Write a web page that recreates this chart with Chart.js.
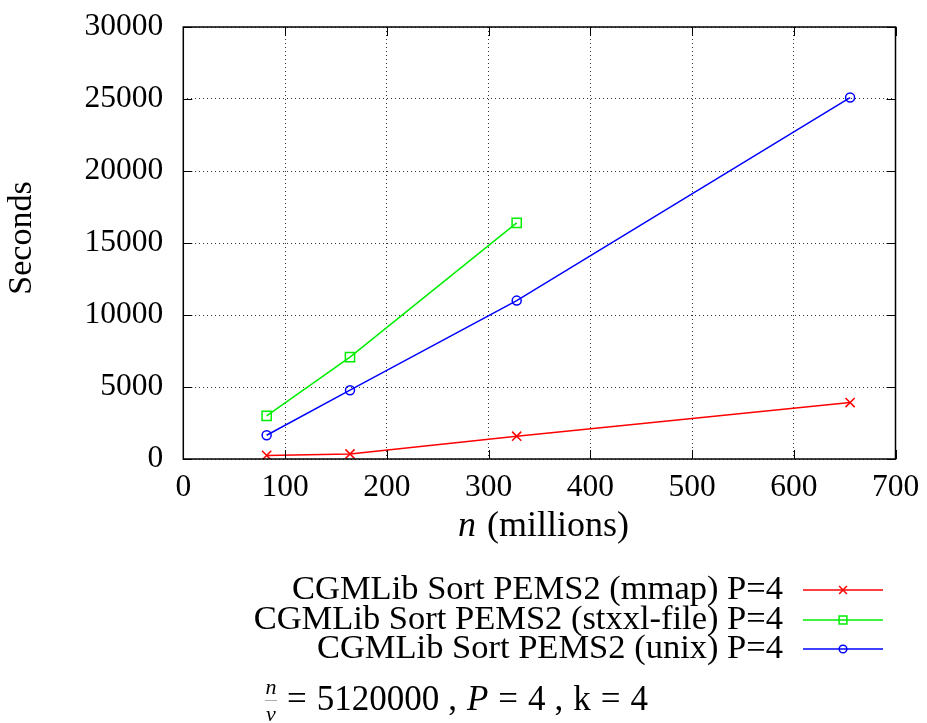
<!DOCTYPE html>
<html>
<head>
<meta charset="utf-8">
<script src="https://cdn.jsdelivr.net/npm/chart.js@4.4.1/dist/chart.umd.min.js"></script>
<style>
  html, body { margin: 0; padding: 0; background: #fff; }
  #wrap { width: 927px; height: 723px; }
</style>
</head>
<body>
<div id="wrap"><canvas id="myChart" width="927" height="723"></canvas></div>
<script>
const nMillions = [81.92, 163.84, 327.68, 655.36];
const mmapSeconds = [250, 350, 1580, 3920];
const stxxlSeconds = [3000, 7080, 16400];
const unixSeconds = [1650, 4780, 11000, 25100];
const seriesLabels = [
  'CGMLib Sort PEMS2 (mmap) P=4',
  'CGMLib Sort PEMS2 (stxxl-file) P=4',
  'CGMLib Sort PEMS2 (unix) P=4'
];
const xTicks = [0, 100, 200, 300, 400, 500, 600, 700];
const yTicks = [0, 5000, 10000, 15000, 20000, 25000, 30000];

const FONT = '"Liberation Serif", "DejaVu Serif", serif';

function toPoints(xs, ys) {
  return ys.map((v, i) => ({ x: xs[i], y: v }));
}

// frame, inward ticks, axis titles, legend and footnote in gnuplot style
const gnuplotDecor = {
  id: 'gnuplotDecor',
  afterDraw(chart) {
    const { ctx, chartArea: a, scales: { x, y } } = chart;
    ctx.save();

    ctx.strokeStyle = '#000';
    ctx.lineWidth = 1;
    ctx.beginPath();
    const t = 9;
    x.ticks.forEach(tk => {
      const px = Math.round(x.getPixelForValue(tk.value)) + 0.5;
      ctx.moveTo(px, a.bottom); ctx.lineTo(px, a.bottom - t);
      ctx.moveTo(px, a.top); ctx.lineTo(px, a.top + t);
    });
    y.ticks.forEach(tk => {
      const py = Math.round(y.getPixelForValue(tk.value)) + 0.5;
      ctx.moveTo(a.left, py); ctx.lineTo(a.left + t, py);
      ctx.moveTo(a.right, py); ctx.lineTo(a.right - t, py);
    });
    ctx.stroke();
    ctx.lineWidth = 1.5;
    ctx.strokeRect(a.left, a.top, a.right - a.left, a.bottom - a.top);

    ctx.fillStyle = '#000';
    ctx.textBaseline = 'middle';

    // y title
    ctx.save();
    ctx.translate(22, 238);
    ctx.rotate(-Math.PI / 2);
    ctx.textAlign = 'center';
    ctx.font = '34px ' + FONT;
    ctx.fillText('Seconds', 0, 0);
    ctx.restore();

    // x title: italic n + (millions)
    ctx.textAlign = 'left';
    let cx = 458;
    ctx.font = 'italic 36px ' + FONT;
    ctx.fillText('n', cx, 527);
    cx += ctx.measureText('n').width + 11;
    ctx.font = '36px ' + FONT;
    ctx.fillText('(millions)', cx, 527);

    // legend
    const rows = [590, 620, 649];
    chart.data.datasets.forEach((ds, i) => {
      const ry = rows[i];
      ctx.textAlign = 'right';
      ctx.font = '34.5px ' + FONT;
      ctx.fillStyle = '#000';
      ctx.fillText(ds.label, 783, ry);
      ctx.strokeStyle = ds.borderColor;
      ctx.lineWidth = 1.5;
      ctx.beginPath();
      ctx.moveTo(803, ry); ctx.lineTo(883, ry);
      ctx.stroke();
      ctx.fillStyle = 'rgba(0,0,0,0)';
      Chart.helpers.drawPoint(ctx, {
        pointStyle: ds.pointStyle,
        radius: ds.pointRadius * 0.85,
        rotation: 0,
        borderWidth: 1.5
      }, 843, ry);
    });

    // footnote: n/v = 5120000 , P = 4 , k = 4
    ctx.fillStyle = '#000';
    ctx.textAlign = 'center';
    ctx.font = 'italic 22px ' + FONT;
    ctx.fillText('n', 271, 688);
    ctx.fillText('v', 271, 715);
    ctx.strokeStyle = '#aaa';
    ctx.lineWidth = 1;
    ctx.beginPath();
    ctx.moveTo(265, 700.5); ctx.lineTo(277, 700.5);
    ctx.stroke();
    ctx.textAlign = 'left';
    let fx = 287;
    const parts = [['=', '', 10], ['5120000', '', 9], [',', '', 10], ['P', 'italic ', 10],
                   ['=', '', 10], ['4', '', 9], [',', '', 10], ['k', '', 10], ['=', '', 10], ['4', '', 0]];
    parts.forEach(([txt, style, gap]) => {
      ctx.font = style + '35px ' + FONT;
      ctx.fillText(txt, fx, 701);
      fx += ctx.measureText(txt).width + gap;
    });

    ctx.restore();
  }
};

const ctx = document.getElementById('myChart').getContext('2d');
new Chart(ctx, {
  type: 'scatter',
  data: {
    datasets: [
      {
        label: seriesLabels[0],
        data: toPoints(nMillions, mmapSeconds),
        showLine: true,
        borderColor: '#ff0000',
        backgroundColor: 'rgba(0,0,0,0)',
        borderWidth: 1.5,
        pointStyle: 'crossRot',
        pointRadius: 6.5,
        pointBorderWidth: 1.5
      },
      {
        label: seriesLabels[1],
        data: toPoints(nMillions, stxxlSeconds),
        showLine: true,
        borderColor: '#00ee00',
        backgroundColor: 'rgba(0,0,0,0)',
        borderWidth: 1.5,
        pointStyle: 'rect',
        pointRadius: 6.5,
        pointBorderWidth: 1.5
      },
      {
        label: seriesLabels[2],
        data: toPoints(nMillions, unixSeconds),
        showLine: true,
        borderColor: '#0000ff',
        backgroundColor: 'rgba(0,0,0,0)',
        borderWidth: 1.5,
        pointStyle: 'circle',
        pointRadius: 4.5,
        pointBorderWidth: 1.5
      }
    ]
  },
  options: {
    responsive: false,
    animation: false,
    devicePixelRatio: 1,
    layout: { padding: { left: 0, top: 27, right: 31.5, bottom: 184 } },
    plugins: {
      legend: { display: false },
      tooltip: { enabled: false }
    },
    scales: {
      x: {
        type: 'linear',
        min: 0,
        max: 700,
        afterBuildTicks: s => { s.ticks = xTicks.map(v => ({ value: v })); },
        afterFit: s => { s.height = 80; },
        grid: {
          color: 'rgba(0,0,0,0.8)', lineWidth: 1,
          drawTicks: true, tickLength: 8, tickColor: 'rgba(0,0,0,0)'
        },
        border: { display: false, dash: [1, 3] },
        ticks: {
          padding: 2,
          color: '#000',
          font: { family: FONT, size: 31.5 },
          callback: v => String(v)
        }
      },
      y: {
        type: 'linear',
        min: 0,
        max: 30000,
        afterBuildTicks: s => { s.ticks = yTicks.map(v => ({ value: v })); },
        afterFit: s => { s.width = 183.3; },
        grid: {
          color: 'rgba(0,0,0,0.8)', lineWidth: 1,
          drawTicks: true, tickLength: 17, tickColor: 'rgba(0,0,0,0)'
        },
        border: { display: false, dash: [1, 3] },
        ticks: {
          padding: 3,
          color: '#000',
          font: { family: FONT, size: 31.5 },
          callback: v => String(v)
        }
      }
    }
  },
  plugins: [gnuplotDecor]
});
</script>
</body>
</html>
